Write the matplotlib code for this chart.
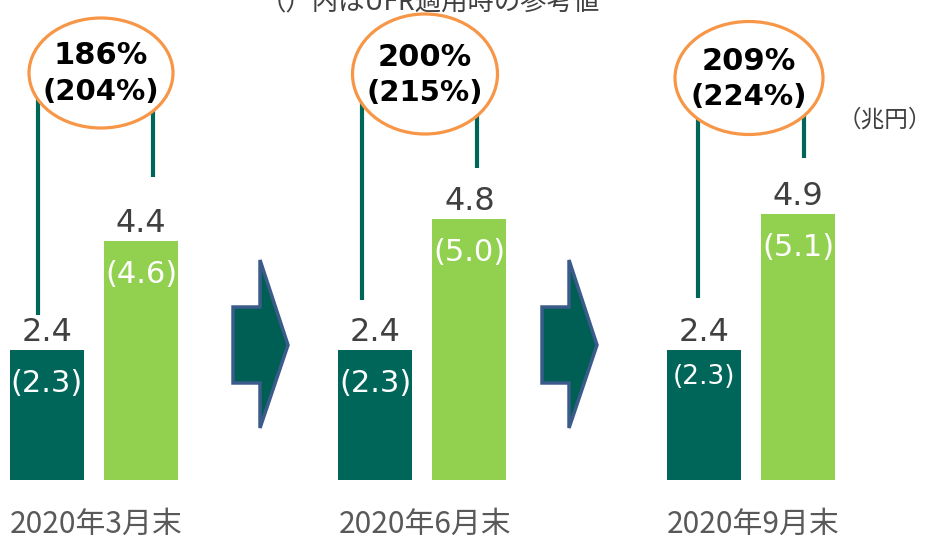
import matplotlib.pyplot as plt
from matplotlib.patches import Ellipse, Polygon

# data
periods = ['2020年3月末', '2020年6月末', '2020年9月末']
ratio = ['186%', '200%', '209%']
ratio_ufr = ['(204%)', '(215%)', '(224%)']
required = [2.4, 2.4, 2.4]
required_ufr = [2.3, 2.3, 2.3]
capital = [4.4, 4.8, 4.9]
capital_ufr = [4.6, 5.0, 5.1]

DARK = '#00665A'
GREEN = '#92D050'
ORANGE = '#F79646'
GRAY = '#404040'

# layout (pixels of the 925x538 canvas)
PX_GROUP = 328.5   # px between group centres
PX_UNIT = 54.3     # px per 1 兆円
X0, Y0 = 94, 480   # first group centre, baseline


def dx(px):
    return px / PX_GROUP


def dy(px):
    return px / PX_UNIT


def px2x(px):
    return dx(px - X0)


def px2y(py):
    return dy(Y0 - py)


fig = plt.figure(figsize=(9.25, 5.38), dpi=100)
ax = fig.add_axes([0, 0, 1, 1])
ax.set_xlim(px2x(0), px2x(925))
ax.set_ylim(px2y(538), px2y(0))
ax.axis('off')

cjk = ['Noto Sans CJK JP', 'DejaVu Sans']
bar_w = dx(74)
off = dx(47)
xs = range(len(periods))

ax.bar([i - off for i in xs], required, width=bar_w, color=DARK, zorder=2)
ax.bar([i + off for i in xs], capital, width=bar_w, color=GREEN, zorder=2)

ufr_size = [22, 22, 19]
for i in xs:
    for x, v, vu, fs in [(i - off, required[i], required_ufr[i], ufr_size[i]),
                         (i + off, capital[i], capital_ufr[i], 22)]:
        ax.annotate(f'{v:.1f}', (x, v), xytext=(0, 6.5), textcoords='offset points',
                    ha='center', va='baseline', fontsize=23, color=GRAY)
        ax.annotate(f'({vu:.1f})', (x, v), xytext=(0, -24 if fs > 20 else -20),
                    textcoords='offset points', ha='center', va='center',
                    fontsize=fs, color='white', zorder=3)

# connector lines + ellipses
line_px = [(-56, 59), (-60.5, 54.5), (-53, 53)]
line_gap = [(0.64, 1.18), (0.91, 0.95), (0.95, 1.03)]
ell_c = [(101, 73), (425, 74), (749, 78)]
ell_wh = [(144, 110), (145, 120), (148, 113)]
for i in xs:
    cy = px2y(ell_c[i][1])
    for lp, base, gap in [(line_px[i][0], required[i], line_gap[i][0]),
                          (line_px[i][1], capital[i], line_gap[i][1])]:
        ax.plot([i + dx(lp)] * 2, [base + gap, cy], color=DARK, lw=3,
                solid_capstyle='butt', zorder=1)
    cx = px2x(ell_c[i][0])
    ax.add_patch(Ellipse((cx, cy), dx(ell_wh[i][0]), dy(ell_wh[i][1]),
                         facecolor='white', edgecolor=ORANGE, lw=2.3, zorder=4))
    ax.text(cx, cy + dy(17), ratio[i], ha='center', va='center',
            fontsize=22, fontweight='bold', color='black', zorder=5)
    ax.text(cx, cy - dy(19), ratio_ufr[i], ha='center', va='center',
            fontsize=21, fontweight='bold', color='black', zorder=5)

# arrows between periods
for left in [233, 542]:
    pts = [(left, 307), (left + 27, 307), (left + 27, 260), (left + 55, 345),
           (left + 27, 428), (left + 27, 383), (left, 383)]
    ax.add_patch(Polygon([(px2x(a), px2y(b)) for a, b in pts], closed=True,
                         facecolor='#005F55', edgecolor='#3B5B8A', lw=2.5, zorder=2))

# category labels
for i in xs:
    ax.text(i - off - bar_w / 2, px2y(524), periods[i], ha='left', va='center',
            fontsize=21.5, color='#595959', family=cjk)

ax.text(px2x(885), px2y(120), '（兆円）', ha='center', va='center',
        fontsize=17, color=GRAY, family=cjk)
ax.text(px2x(430), px2y(10), '（）内はUFR適用時の参考値', ha='center', va='baseline',
        fontsize=19, color=GRAY, family=cjk)

fig.savefig('out.png', dpi=100)
